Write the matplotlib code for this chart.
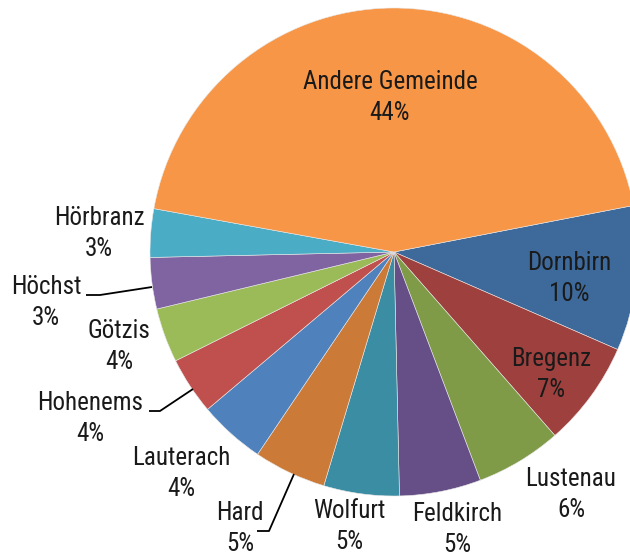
import matplotlib
matplotlib.use('Agg')
import matplotlib.pyplot as plt
from matplotlib import font_manager as fm

# ---- data (clockwise order, starting right of "Andere Gemeinde") ----
categories = ['Dornbirn', 'Bregenz', 'Lustenau', 'Feldkirch', 'Wolfurt', 'Hard',
              'Lauterach', 'Hohenems', 'Götzis', 'Höchst', 'Hörbranz', 'Andere Gemeinde']
values = [9.6, 7.0, 5.7, 5.4, 5.0, 4.8, 4.4, 3.8, 3.6, 3.4, 3.2, 44.1]
colors = ['#3E6A9B', '#9E413E', '#7F9B48', '#664F87', '#3B8DA4', '#CC7A37',
          '#4F81BD', '#C0504D', '#9BBB59', '#8064A2', '#4BACC6', '#F79646']

# label positions in pixels (x, y of name line centre, from top)
label_pos = [(569, 263), (551, 359), (571, 479), (457, 514), (349, 511), (240, 513),
             (181, 458), (90, 403), (119, 331), (46, 287), (99, 218), (390, 82)]
# leader lines in pixels (from top)
leaders = {
    'Höchst': [(86, 295), (100, 295), (152, 287)],
    'Hohenems': [(149, 411), (160, 411), (193, 389)],
    'Hard': [(257, 531), (269, 531), (294, 474)],
}

# pick a condensed / narrow face if one is installed
def pick_font():
    best = None
    for f in fm.fontManager.ttflist:
        nm = f.name + ' ' + str(f.fname)
        narrow = ('Narrow' in nm or 'Condensed' in nm or 'Cond' in str(f.fname)
                  or f.stretch in ('condensed', 'semi-condensed'))
        if not narrow or f.style != 'normal':
            continue
        w = f.weight if isinstance(f.weight, int) else 400
        if w != 400:
            continue
        score = 0
        if 'Liberation' in nm or 'Arial' in nm:
            score = 3
        elif 'Roboto' in nm or 'Open Sans' in nm:
            score = 2
        elif 'DejaVu' in nm:
            score = 1
        if best is None or score > best[0]:
            best = (score, f.fname)
    return best[1] if best else None

fpath = pick_font()
if fpath:
    fs = 18
    fprop = fm.FontProperties(fname=fpath, size=fs)
else:
    fs = 16
    fprop = fm.FontProperties(family=['Liberation Sans', 'DejaVu Sans'], size=fs)

W, H = 630, 557
fig = plt.figure(figsize=(W / 100, H / 100), dpi=100)
ax = fig.add_axes([0, 0, 1, 1])
cx, cy, r = 394, 252, 244
ax.pie(values, colors=colors, startangle=11, counterclock=False,
       center=(cx, H - cy), radius=r,
       wedgeprops=dict(edgecolor='#e8e8e8', linewidth=0.4))
ax.set_xlim(0, W)
ax.set_ylim(0, H)
ax.set_aspect('equal')
ax.axis('off')

tc = '#1a1a1a'
total = sum(values)
for name, v, (x, y) in zip(categories, values, label_pos):
    ax.text(x, H - y, name, ha='center', va='center', fontproperties=fprop, color=tc)
    ax.text(x, H - (y + 31), f"{round(v / total * 100)}%", ha='center', va='center',
            fontproperties=fprop, color=tc)

for pts in leaders.values():
    xs = [p[0] for p in pts]
    ys = [H - p[1] for p in pts]
    ax.plot(xs, ys, color='black', linewidth=1.3, solid_capstyle='butt')

fig.savefig('out.png', dpi=100)
